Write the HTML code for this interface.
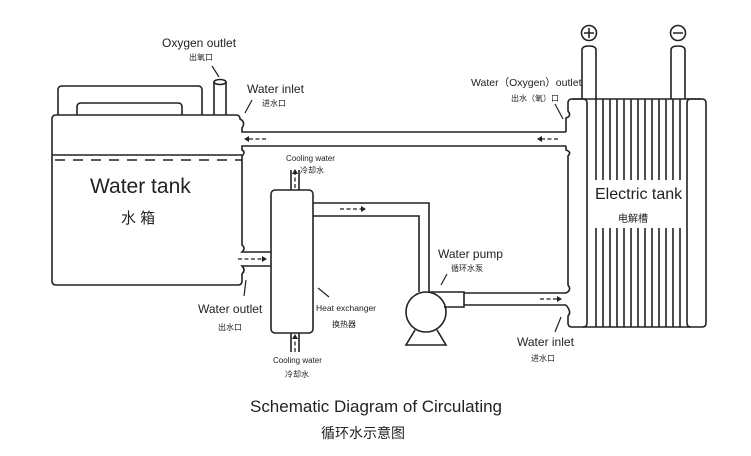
<!DOCTYPE html>
<html><head><meta charset="utf-8"><style>
html,body{margin:0;padding:0;background:#fff;}
svg{display:block;}
text{font-family:"Liberation Sans","Noto Sans CJK SC",sans-serif;fill:#222;}
</style></head><body>
<svg width="751" height="456" viewBox="0 0 751 456" xmlns="http://www.w3.org/2000/svg">
<g fill="none" stroke="#222" stroke-width="1.6">
<!-- water tank top handles -->
<path d="M58,115 V90 Q58,86 62,86 H198 Q202,86 202,90 V115"/>
<path d="M77,115 V107 Q77,103 81,103 H178 Q182,103 182,107 V115"/>
<!-- oxygen pipe -->
<path d="M214,115 V82 M226,115 V82"/>
<ellipse cx="220" cy="82" rx="6" ry="2.5"/>
<!-- tank body -->
<path d="M56,115 H236 Q240,115 240,119 Q246,122 242,128 L242,132 H566"/>
<path d="M566,146 H242 L242,150 Q246,152 242,156 V245 Q246,248 242,252 H271"/>
<path d="M271,266 H242 Q246,270 242,274 V281 Q242,285 238,285 H56 Q52,285 52,281 V119 Q52,115 56,115"/>
<line x1="52" y1="155" x2="242" y2="155"/>
<line x1="55" y1="160" x2="242" y2="160" stroke-dasharray="10,8"/>
<!-- heat exchanger -->
<rect x="271" y="190" width="42" height="143" rx="4"/>
<path d="M291,190 V170 M299,190 V170 M291,333 V352 M299,333 V352"/>
<path d="M313,203 H429 V292 M313,216 H419 V292"/>
<!-- pump -->
<circle cx="426" cy="312" r="20"/>
<path d="M430,292 H464 V307 H444"/>
<path d="M464,293 H566 M464,305 H566"/>
<path d="M415,330 L406,345 H446 L437,330"/>
<!-- electric tank -->
<path d="M566,132 V118 Q572,116 568,111 V103 Q568,99 572,99 H702 Q706,99 706,103 V323 Q706,327 702,327 H572 Q568,327 568,323 V316 Q572,312 566,305"/>
<path d="M566,146 V150 Q572,152 568,156 V285 Q572,290 566,293"/>
<path d="M572,99 H583 Q587,99 587,103 V323 Q587,327 583,327"/>
<path d="M701,99 H691 Q687,99 687,103 V323 Q687,327 691,327"/>
<path d="M596,99V180M603,99V180M610,99V180M617,99V180M624,99V180M631,99V180M638,99V180M645,99V180M652,99V180M659,99V180M666,99V180M673,99V180M680,99V180"/>
<path d="M596,228V327M603,228V327M610,228V327M617,228V327M624,228V327M631,228V327M638,228V327M645,228V327M652,228V327M659,228V327M666,228V327M673,228V327M680,228V327"/>
<path d="M582,99 V50 Q582,46 589,46 Q596,46 596,50 V99"/>
<path d="M671,99 V50 Q671,46 678,46 Q685,46 685,50 V99"/>
<circle cx="589" cy="33" r="7.5"/>
<circle cx="678" cy="33" r="7.5"/>
<path d="M584,33 H594 M589,28 V38 M673,33 H683"/>
<!-- leader lines -->
<path d="M212,66 L219,77 M245,113 L252,100 M563,119 L555,104 M441,285 L447,274 M246,280 L244,296 M318,288 L329,297 M561,317 L555,332" stroke-width="1.2"/>
</g>
<!-- dashed arrows -->
<g stroke="#222" stroke-width="1.3" stroke-dasharray="4,2.5" fill="none">
<path d="M266,139 H247"/><path d="M558,139 H540"/>
<path d="M238,259 H262"/><path d="M340,209 H361"/>
<path d="M540,299 H557"/>
<path d="M295,188 V173"/><path d="M295,352 V337"/>
</g>
<g fill="#222">
<path d="M244,139 l5,-3 v6z"/><path d="M537,139 l5,-3 v6z"/>
<path d="M267,259 l-5,-3 v6z"/><path d="M366,209 l-5,-3 v6z"/>
<path d="M562,299 l-5,-3 v6z"/>
<path d="M295,169 l-3,5 h6z"/><path d="M295,334 l-3,5 h6z"/>
</g>
<!-- labels -->
<text x="162" y="47" font-size="12">Oxygen outlet</text>
<text x="189" y="60" font-size="8">出氧口</text>
<text x="247" y="93" font-size="12">Water inlet</text>
<text x="262" y="106" font-size="8">进水口</text>
<text x="471" y="86" font-size="10.5">Water（Oxygen）outlet</text>
<text x="511" y="101" font-size="8">出水（氧）口</text>
<text x="90" y="193" font-size="21">Water  tank</text>
<text x="121" y="223" font-size="15">水 箱</text>
<text x="595" y="199" font-size="16">Electric  tank</text>
<text x="618" y="222" font-size="10">电解槽</text>
<text x="286" y="161" font-size="8">Cooling water</text>
<text x="300" y="173" font-size="8">冷却水</text>
<text x="273" y="363" font-size="8">Cooling water</text>
<text x="285" y="377" font-size="8">冷却水</text>
<text x="438" y="258" font-size="12">Water pump</text>
<text x="451" y="271" font-size="8">循环水泵</text>
<text x="198" y="313" font-size="12">Water outlet</text>
<text x="218" y="330" font-size="8">出水口</text>
<text x="316" y="311" font-size="8.5">Heat exchanger</text>
<text x="332" y="327" font-size="8">换热器</text>
<text x="517" y="346" font-size="12">Water inlet</text>
<text x="531" y="361" font-size="8">进水口</text>
<text x="250" y="412" font-size="17" textLength="252">Schematic Diagram of Circulating</text>
<text x="321" y="438" font-size="14">循环水示意图</text>
</svg>
</body></html>
